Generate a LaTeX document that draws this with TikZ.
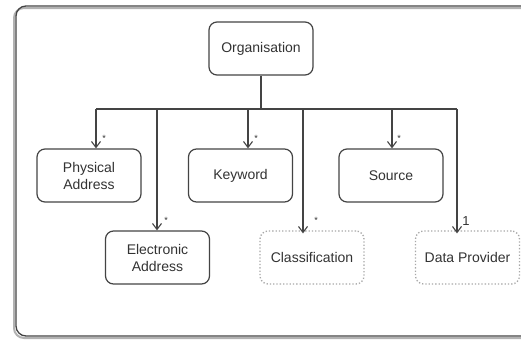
\documentclass[tikz,border=0pt]{standalone}
\usepackage{fontspec}
\setmainfont{Liberation Sans}
\usetikzlibrary{arrows.meta}
\definecolor{ink}{HTML}{444444}
\definecolor{txt}{HTML}{333333}
\definecolor{dotc}{HTML}{A8A8A8}
\tikzset{
  ent/.style={draw=ink, line width=1.2pt, rounded corners=8pt, minimum width=104pt, minimum height=53pt, align=center, text=txt, font=\fontsize{14}{17}\selectfont, inner sep=0pt},
  ghost/.style={draw=dotc, line width=1.3pt, dotted, rounded corners=8pt, minimum width=104pt, minimum height=53pt, align=center, text=txt, font=\fontsize{14}{17}\selectfont, inner sep=0pt},
  link/.style={draw=ink, line width=1.1pt},
  arr/.style={link, -{Straight Barb[length=6pt,width=9pt,line width=1.1pt]}},
  mult/.style={text=txt, font=\fontsize{9}{9}\selectfont, inner sep=0pt},
  one/.style={text=txt, font=\fontsize{13}{13}\selectfont, inner sep=0pt}
}
\begin{document}
\begin{tikzpicture}[x=1pt,y=-1pt]
\useasboundingbox (0,0) rectangle (521,340);
\fill[white] (0,0) rectangle (521,340);
% frame with shadow
\draw[line width=2pt, draw=gray!60, rounded corners=10pt] (14,8) rectangle (540,338);
\draw[line width=1.3pt, draw=ink, rounded corners=10pt] (16,6) rectangle (540,336);
% nodes
\node[ent] (org) at (261,48.5) {Organisation};
\node[ent] (phys) at (89,175.5) {Physical\\Address};
\node[ent] (elec) at (157.5,257.5) {Electronic\\Address};
\node[ent] (key) at (240.5,175.5) {Keyword};
\node[ghost] (cls) at (312,257.5) {Classification};
\node[ent] (src) at (391,175.5) {Source};
\node[ghost] (dp) at (467.5,257.5) {Data Provider};
% bus
\coordinate (j) at (261,109);
\coordinate (b1) at (96,109);
\coordinate (b2) at (157,109);
\coordinate (b3) at (248,109);
\coordinate (b4) at (303,109);
\coordinate (b5) at (392,109);
\coordinate (b6) at (457,109);
\draw[link] (org.south) -- (j);
\draw[link] (b1) -- (b6);
\draw[arr] (b1) -- (b1 |- phys.north);
\draw[arr] (b2) -- (b2 |- elec.north);
\draw[arr] (b3) -- (b3 |- key.north);
\draw[arr] (b4) -- ([yshift=-3pt]b4 |- cls.north);
\draw[arr] (b5) -- (b5 |- src.north);
\draw[arr] (b6) -- ([yshift=-3pt]b6 |- dp.north);
% multiplicities
\node[mult] (m1) at (104,138) {*};
\node[mult] (m2) at (166,220) {*};
\node[mult] (m3) at (256,138) {*};
\node[mult] (m4) at (316,220) {*};
\node[mult] (m5) at (399,138) {*};
\node[one] (m6) at (466,221) {1};
\end{tikzpicture}
\end{document}
